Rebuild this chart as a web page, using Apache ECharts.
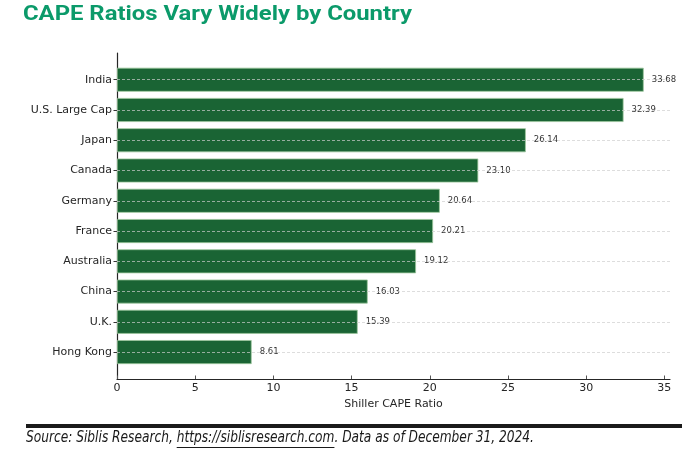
<!DOCTYPE html>
<html lang="en">
<head>
    <meta charset="UTF-8">
    <title>CAPE Ratios</title>
    <style>
        html, body { margin: 0; padding: 0; background: #fff; }
        #main { width: 700px; height: 468px; }
    </style>
</head>
<body>
<script src="https://cdn.jsdelivr.net/npm/echarts@6/dist/echarts.min.js"></script>
<div id="main"></div>
<script>
    var countries = ['India', 'U.S. Large Cap', 'Japan', 'Canada', 'Germany', 'France', 'Australia', 'China', 'U.K.', 'Hong Kong'];
    var capeValues = [33.68, 32.39, 26.14, 23.10, 20.64, 20.21, 19.12, 16.03, 15.39, 8.61];
    var xTicks = [0, 5, 10, 15, 20, 25, 30, 35];
    var xMax = 35.36;   // matplotlib style 5% margin over the biggest bar

    var titleText = 'CAPE Ratios Vary Widely by Country';
    var srcPrefix = 'Source: Siblis Research, ';
    var srcUrl = 'https://siblisresearch.com';
    var srcSuffix = '. Data as of December 31, 2024.';
    var titleFont = 'bold 20px Roboto, sans-serif';
    var srcFont = 'italic 15px "Liberation Sans Narrow", "DejaVu Sans Condensed", sans-serif';

    // measure text with canvas, used to fit widths and put the underline under the url
    var measure = function (txt, font) {
        var c = document.createElement('canvas').getContext('2d');
        c.font = font;
        return c.measureText(txt).width;
    };

    var chart = echarts.init(document.getElementById('main'));

    var titleScale = 389 / measure(titleText, titleFont);
    var srcLeft = 26;
    var srcScale = 508 / measure(srcPrefix + srcUrl + srcSuffix, srcFont);
    var urlStart = srcLeft + measure(srcPrefix, srcFont) * srcScale;
    var urlEnd = urlStart + measure(srcUrl, srcFont) * srcScale;

    var option = {
        backgroundColor: '#fff',
        animation: false,
        grid: [
            // bars
            { left: 117, right: 30, top: 64.6, height: 302.6 },
            // spines + x axis (matplotlib extra margin)
            { left: 117, right: 30, top: 53, height: 326 }
        ],
        xAxis: [
            { type: 'value', gridIndex: 0, min: 0, max: xMax, show: false },
            {
                type: 'value', gridIndex: 1, min: 0, max: xMax,
                name: 'Shiller CAPE Ratio',
                nameLocation: 'middle',
                nameGap: 18,
                nameTextStyle: { fontFamily: 'DejaVu Sans', fontSize: 11, color: '#262626' },
                axisLine: { show: true, lineStyle: { color: '#262626', width: 1.2 } },
                axisTick: { show: true, inside: true, length: 3.5, customValues: xTicks, lineStyle: { color: '#555' } },
                axisLabel: { customValues: xTicks, margin: 4, fontFamily: 'DejaVu Sans', fontSize: 11, color: '#262626' },
                splitLine: { show: false }
            }
        ],
        yAxis: [
            {
                type: 'category', gridIndex: 0, inverse: true,
                data: countries,
                axisLine: { show: false },
                axisTick: { show: true, alignWithLabel: true, length: 3.5, lineStyle: { color: '#333' } },
                axisLabel: { margin: 5, fontFamily: 'DejaVu Sans', fontSize: 11, color: '#262626' },
                splitLine: { show: false }
            },
            {
                type: 'value', gridIndex: 1, min: 0, max: 1,
                axisLine: { show: true, lineStyle: { color: '#262626', width: 1.2 } },
                axisTick: { show: false },
                axisLabel: { show: false },
                splitLine: { show: false }
            }
        ],
        series: [
            {
                type: 'bar',
                xAxisIndex: 0,
                yAxisIndex: 0,
                data: capeValues,
                barWidth: 24,
                itemStyle: { color: '#1a6434', borderColor: '#9cc79c', borderWidth: 0.8 },
                label: {
                    show: true,
                    position: 'right',
                    distance: 8,
                    fontFamily: 'DejaVu Sans',
                    fontSize: 8.5,
                    color: '#333',
                    formatter: function (p) { return p.value.toFixed(2); }
                },
                markLine: {
                    silent: true,
                    symbol: 'none',
                    label: { show: false },
                    lineStyle: { color: '#cfcfcf', type: [3, 2], width: 0.7 },
                    data: countries.map(function (c) { return { yAxis: c }; })
                }
            }
        ],
        graphic: [
            {
                type: 'text',
                x: 23,
                y: 5,
                scaleX: titleScale,
                style: {
                    text: titleText,
                    font: titleFont,
                    fill: '#0b9a6a',
                    textVerticalAlign: 'top'
                }
            },
            {
                type: 'rect',
                shape: { x: 26, y: 424, width: 656, height: 4 },
                style: { fill: '#1a1a1a' }
            },
            {
                type: 'text',
                x: srcLeft,
                y: 431,
                scaleX: srcScale,
                style: {
                    text: srcPrefix + srcUrl + srcSuffix,
                    font: srcFont,
                    fill: '#1a1a1a',
                    textVerticalAlign: 'top'
                }
            },
            {
                type: 'line',
                shape: { x1: urlStart, y1: 447.5, x2: urlEnd, y2: 447.5 },
                style: { stroke: '#1a1a1a', lineWidth: 1 }
            }
        ]
    };
    chart.setOption(option);
</script>
</body>
</html>
